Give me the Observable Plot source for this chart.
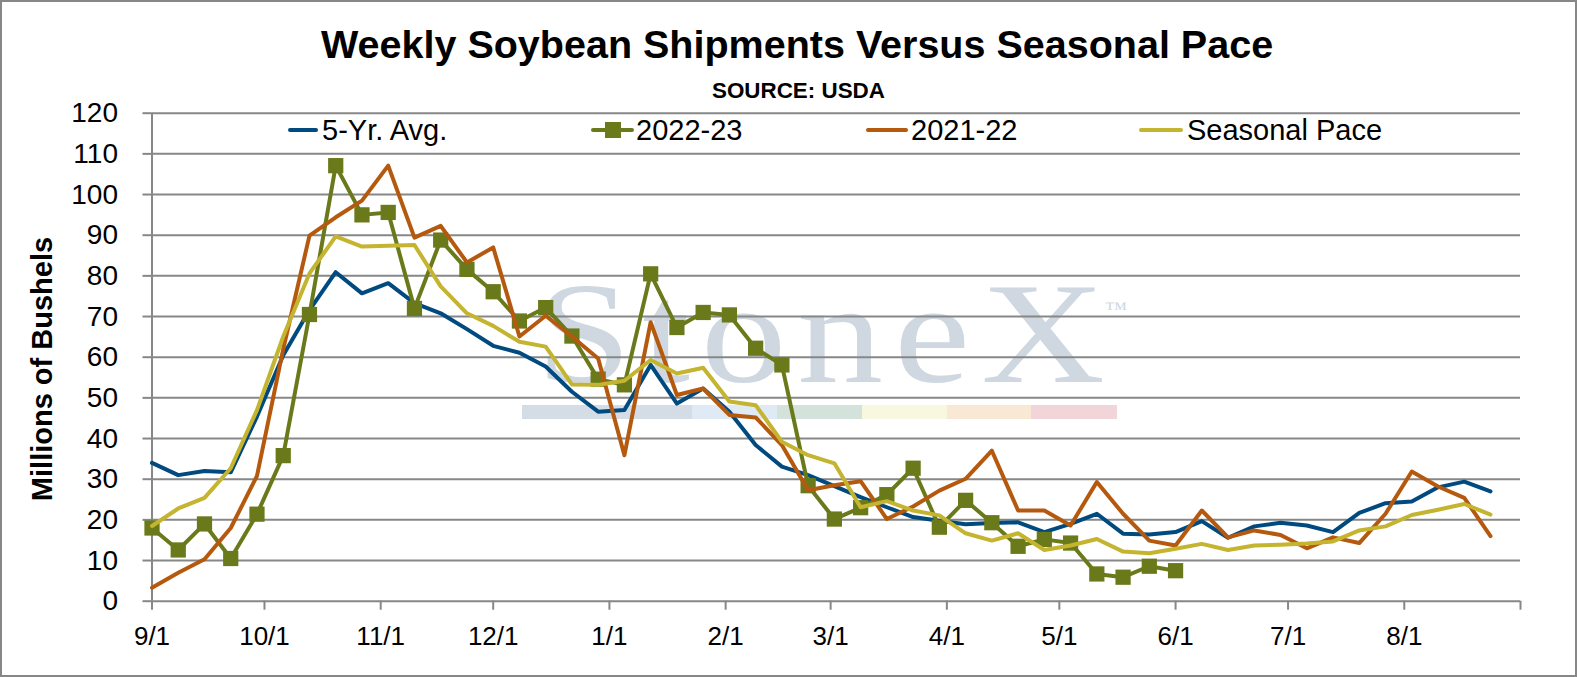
<!DOCTYPE html>
<html><head><meta charset="utf-8">
<script src="https://cdn.jsdelivr.net/npm/d3@7"></script>
<script src="https://cdn.jsdelivr.net/npm/@observablehq/plot@0.6"></script>
<style>
html,body{margin:0;padding:0;background:#fff;overflow:hidden;}
#wrap{position:relative;width:1577px;height:677px;overflow:hidden;font-family:"Liberation Sans",Arial,sans-serif;background:#fff;}
#frame{position:absolute;left:0;top:0;width:1577px;height:677px;box-sizing:border-box;border:2px solid #878787;pointer-events:none;}
.abs{position:absolute;white-space:nowrap;line-height:1;}
.title{font-weight:bold;color:#000;}
#chart{position:absolute;left:0;top:0;width:1577px;height:677px;}
.wm{color:#cfd7e0;font-family:"Liberation Serif","DejaVu Serif",serif;}
.bar{position:absolute;height:14px;}
.lg-line{position:absolute;height:4px;border-radius:2px;}
.lg-text{font-size:29px;color:#000;}
</style></head>
<body><div id="wrap">
  <div id="wm"></div>
  <div id="chart"></div>
  <div class="abs title" style="left:321px;top:25px;font-size:39.5px">Weekly Soybean Shipments Versus Seasonal Pace</div>
  <div class="abs title" style="left:712px;top:79.6px;font-size:22.4px">SOURCE: USDA</div>
  <div class="abs" style="left:41.7px;top:369px;font-size:29px;font-weight:bold;transform:translate(-50%,-50%) rotate(-90deg);">Millions of Bushels</div>
  <div id="legend"></div>
  <div id="frame"></div>
</div>
<script>
// ---- data ----
const seriesNames = ["5-Yr. Avg.", "2022-23", "2021-22", "Seasonal Pace"];
const startDate = "2022-09-01";
const endDate = "2023-09-01";
const yTicks = [0,10,20,30,40,50,60,70,80,90,100,110,120];
const monthLabels = ["9/1","10/1","11/1","12/1","1/1","2/1","3/1","4/1","5/1","6/1","7/1","8/1",""];

const avg5 = [34.0,31.0,32.0,31.7,45.4,60.5,71.6,80.9,75.7,78.2,73.3,70.8,66.9,62.8,
  61.1,57.7,51.5,46.6,47.0,58.1,48.6,52.3,46.6,38.4,33.1,31.0,28.3,
  25.6,23.1,20.7,19.8,18.9,19.2,19.4,17.0,19.0,21.5,16.6,16.4,17.0,
  19.7,15.6,18.4,19.3,18.6,17.0,21.7,24.1,24.5,28.0,29.4,27.0];
const y2223 = [18.0,12.6,19.0,10.5,21.4,35.8,70.5,107.1,95.0,95.6,72.0,88.8,81.6,76.1,
  68.9,72.2,65.2,54.6,53.2,80.5,67.3,71.0,70.4,62.2,58.1,28.4,20.2,
  23.0,26.2,32.7,18.2,24.8,19.3,13.5,15.2,14.3,6.7,5.9,8.6,7.5];
const y2122 = [3.3,7.0,10.3,18.0,30.8,62.0,89.9,94.4,98.5,107.1,89.4,92.3,83.3,87.0,
  65.1,70.2,65.1,59.7,35.9,68.6,50.7,52.3,45.8,45.2,38.4,27.3,28.5,
  29.5,20.2,23.3,27.2,30.1,37.0,22.3,22.3,18.6,29.3,21.5,14.9,13.7,
  22.3,15.7,17.4,16.3,13.0,15.7,14.3,21.5,31.9,28.2,25.4,16.0];
const seasonal = [18.5,22.8,25.4,32.7,47.0,65.1,80.6,89.7,87.2,87.4,87.6,77.4,70.8,67.7,
  63.8,62.6,53.3,53.2,54.2,59.3,56.0,57.4,49.1,48.2,39.2,35.9,33.9,
  23.1,24.6,22.3,21.1,16.7,14.9,16.7,12.6,13.7,15.3,12.2,11.8,12.9,
  14.1,12.6,13.7,13.9,14.2,14.7,17.4,18.4,21.2,22.5,23.9,21.3];

// ---- styles ----
const colors = ["#004A80", "#6A7A1B", "#B5590F", "#C4B430"];
const gridColor = "#878787";

const start = new Date(startDate + "T00:00:00Z");
const end = new Date(endDate + "T00:00:00Z");
const weekDate = i => d3.utcDay.offset(start, 7 * i);
const toRows = arr => arr.map((v, i) => ({date: weekDate(i), value: v}));
const monthTicks = d3.utcMonth.range(start, d3.utcDay.offset(end, 1));
const fmtMonth = d => monthLabels[monthTicks.findIndex(t => +t === +d)] ?? "";

const lineOpts = c => ({x: "date", y: "value", stroke: c, strokeWidth: 4, strokeLinejoin: "round", strokeLinecap: "round"});

const chart = Plot.plot({
  width: 1577, height: 677,
  marginLeft: 151.5, marginRight: 57, marginTop: 112.7, marginBottom: 76.3,
  style: {background: "transparent", fontFamily: "'Liberation Sans', Arial, sans-serif", fontSize: "26px", color: "#000", overflow: "visible"},
  x: {type: "utc", domain: [start, end]},
  y: {domain: [0, 120]},
  marks: [
    Plot.ruleY(yTicks, {stroke: gridColor, strokeWidth: 2}),
    Plot.ruleX([start], {stroke: gridColor, strokeWidth: 2}),
    Plot.axisY({ticks: yTicks, tickSize: 9, tickPadding: 25, stroke: gridColor, strokeWidth: 2, fill: "#000", fontSize: 28, label: null, tickFormat: d => String(d)}),
    Plot.axisX({ticks: monthTicks, tickSize: 9, tickPadding: 16, stroke: gridColor, strokeWidth: 2, fill: "#000", fontSize: 26, label: null, tickFormat: fmtMonth}),
    Plot.line(toRows(avg5), lineOpts(colors[0])),
    Plot.line(toRows(y2223), lineOpts(colors[1])),
    Plot.dot(toRows(y2223), {x: "date", y: "value", symbol: "square", r: 8.6, fill: colors[1], stroke: "none"}),
    Plot.line(toRows(y2122), lineOpts(colors[2])),
    Plot.line(toRows(seasonal), lineOpts(colors[3]))
  ]
});
document.getElementById("chart").appendChild(chart);

// ---- legend (HTML) ----
const legendLayout = [
  {lx: 288, lw: 30, tx: 322},
  {lx: 591, lw: 43, tx: 636},
  {lx: 866, lw: 42, tx: 911},
  {lx: 1139, lw: 44, tx: 1187}
];
const legend = document.getElementById("legend");
seriesNames.forEach((name, i) => {
  const L = legendLayout[i];
  const ln = document.createElement("div");
  ln.className = "lg-line";
  ln.style.cssText = `left:${L.lx}px;top:128px;width:${L.lw}px;background:${colors[i]};`;
  legend.appendChild(ln);
  if (i === 1) {
    const sq = document.createElement("div");
    sq.style.cssText = `position:absolute;left:${L.lx + L.lw/2 - 8}px;top:122px;width:16px;height:16px;background:${colors[1]};`;
    legend.appendChild(sq);
  }
  const t = document.createElement("div");
  t.className = "abs lg-text";
  t.style.cssText = `left:${L.tx}px;top:115.5px;`;
  t.textContent = name;
  legend.appendChild(t);
});

// ---- watermark ----
const wm = document.getElementById("wm");
const wmText = document.createElement("div");
wmText.className = "abs wm";
wmText.style.cssText = "left:536px;top:263px;font-size:143px;transform:scaleX(1.2);transform-origin:left top;";
wmText.innerHTML = '<span style="letter-spacing:9px">Stone</span>X<span style="font-size:19px;vertical-align:top;position:relative;top:36px;left:0px;">™</span>';
wm.appendChild(wmText);
const barColors = ["#d4dce6","#d4dce6","#dfeaf5","#d3e2da","#f8f7e0","#f9e8d4","#f2d5d8"];
barColors.forEach((c, i) => {
  const b = document.createElement("div");
  b.className = "bar";
  b.style.cssText = `left:${522 + i*84.9}px;top:405px;width:85.5px;background:${c};`;
  wm.appendChild(b);
});
</script>
</body></html>
